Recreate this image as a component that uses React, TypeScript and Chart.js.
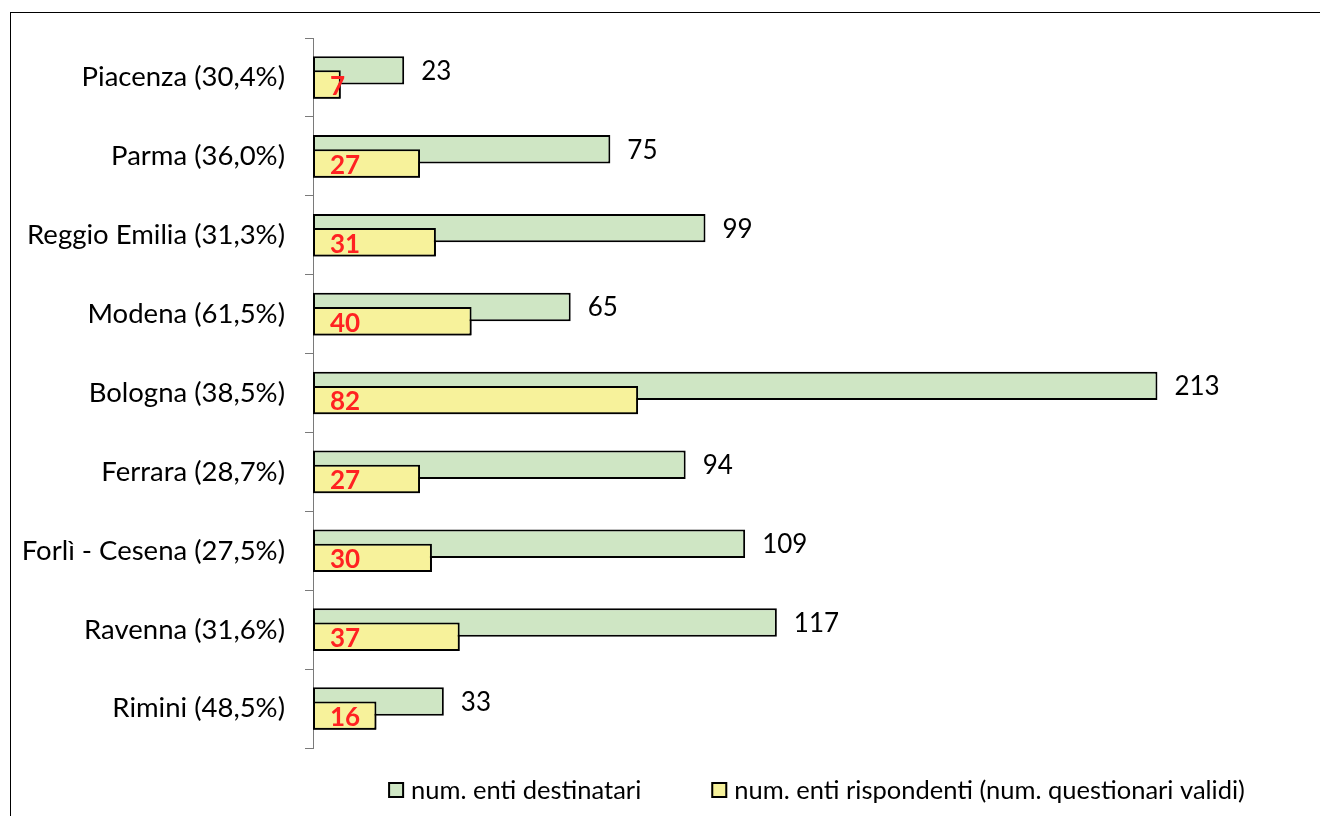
import { useEffect, useRef } from 'react';
import { Chart, registerables } from 'chart.js';

Chart.register(...registerables);

// Province names, in display order (top to bottom)
const provinces = [
  'Piacenza',
  'Parma',
  'Reggio Emilia',
  'Modena',
  'Bologna',
  'Ferrara',
  'Forlì - Cesena',
  'Ravenna',
  'Rimini',
];

// Number of bodies the questionnaire was sent to
const destinatari = [23, 75, 99, 65, 213, 94, 109, 117, 33];

// Number of bodies that answered (valid questionnaires)
const rispondenti = [7, 27, 31, 40, 82, 27, 30, 37, 16];

const seriesNames = [
  'num. enti destinatari',
  'num. enti rispondenti (num. questionari validi)',
];

// Category labels carry the response rate, Italian decimal comma
const categoryLabels = provinces.map(
  (p, i) =>
    `${p} (${((rispondenti[i] / destinatari[i]) * 100).toFixed(1).replace('.', ',')}%)`
);

const FONT = 'Lato, "Open Sans", sans-serif';
const GREEN = '#cfe6c4';
const YELLOW = '#f7f29b';
const RED = '#ff2222';
const AXIS_GREY = '#7a7a7a';

const annotate = {
  id: 'annotate',
  afterDatasetsDraw(chart: any) {
    const ctx: CanvasRenderingContext2D = chart.ctx;
    const greenMeta = chart.getDatasetMeta(0);
    const yellowMeta = chart.getDatasetMeta(1);

    // respondents' bars overlap the recipients' bars, so paint them last
    yellowMeta.data.forEach((el: any) => el.draw(ctx));

    ctx.save();
    ctx.textBaseline = 'middle';
    ctx.textAlign = 'left';

    ctx.font = `26px ${FONT}`;
    ctx.fillStyle = '#000';
    greenMeta.data.forEach((el: any, i: number) => {
      ctx.fillText(String(destinatari[i]), el.x + 17, el.y + 1);
    });

    ctx.font = `bold 26px ${FONT}`;
    ctx.fillStyle = RED;
    yellowMeta.data.forEach((el: any, i: number) => {
      ctx.fillText(String(rispondenti[i]), el.base + 17, el.y + 2);
    });
    ctx.restore();
  },
  afterDraw(chart: any) {
    const ctx: CanvasRenderingContext2D = chart.ctx;
    const { chartArea } = chart;
    const colors = [GREEN, YELLOW];
    const box = 16;
    const gap = 7;
    const spacing = 70;
    const y = 790;

    ctx.save();
    ctx.font = `25.5px ${FONT}`;
    ctx.textBaseline = 'middle';
    ctx.textAlign = 'left';
    const widths = seriesNames.map((t) => box + gap + ctx.measureText(t).width);
    const total = widths.reduce((a, b) => a + b, 0) + spacing;
    let x = (chartArea.left + chart.width) / 2 - total / 2;

    seriesNames.forEach((text, i) => {
      ctx.fillStyle = colors[i];
      ctx.fillRect(x, y - box / 2, box, box);
      ctx.strokeStyle = '#000';
      ctx.lineWidth = 2;
      ctx.strokeRect(x + 1, y - box / 2 + 1, box - 2, box - 2);
      ctx.fillStyle = '#000';
      ctx.fillText(text, x + box + gap, y + 1);
      x += widths[i] + spacing;
    });
    ctx.restore();
  },
};

export default function App() {
  const canvasRef = useRef<HTMLCanvasElement>(null);

  useEffect(() => {
    const canvas = canvasRef.current;
    if (!canvas) return;
    const chart = new Chart(canvas, {
      type: 'bar',
      data: {
        labels: categoryLabels,
        datasets: [
          {
            label: seriesNames[0],
            data: destinatari,
            backgroundColor: GREEN,
            borderColor: '#000',
            borderWidth: 2,
            borderSkipped: false,
          },
          {
            label: seriesNames[1],
            data: rispondenti,
            backgroundColor: YELLOW,
            borderColor: '#000',
            borderWidth: 2,
            borderSkipped: false,
          },
        ],
      },
      options: {
        indexAxis: 'y',
        responsive: false,
        animation: false,
        layout: { padding: { top: 38, bottom: 68, left: 0, right: 0 } },
        datasets: {
          bar: { categoryPercentage: 0.36, barPercentage: 2 },
        },
        scales: {
          x: { type: 'linear', min: 0, max: 254, display: false },
          y: {
            type: 'category',
            offset: true,
            grid: {
              offset: true,
              drawOnChartArea: false,
              drawTicks: true,
              tickLength: 8,
              color: AXIS_GREY,
            },
            border: { display: true, color: AXIS_GREY, width: 1 },
            ticks: {
              color: '#000',
              padding: 20,
              font: { family: FONT, size: 27.5 },
            },
            afterFit: (scale: any) => {
              scale.width = 313;
            },
          },
        },
        plugins: {
          legend: { display: false },
          tooltip: { enabled: false },
        },
      },
      plugins: [annotate],
    });
    return () => chart.destroy();
  }, []);

  return (
    <div
      style={{
        position: 'fixed',
        left: 0,
        top: 0,
        width: 1320,
        height: 816,
        background: '#fff',
        overflow: 'hidden',
      }}
    >
      <div
        style={{
          position: 'absolute',
          left: 10,
          top: 12,
          width: 1400,
          height: 900,
          borderTop: '1px solid #000',
          borderLeft: '1px solid #000',
        }}
      />
      <canvas
        ref={canvasRef}
        width={1320}
        height={816}
        style={{ position: 'absolute', left: 0, top: 0 }}
      />
    </div>
  );
}
